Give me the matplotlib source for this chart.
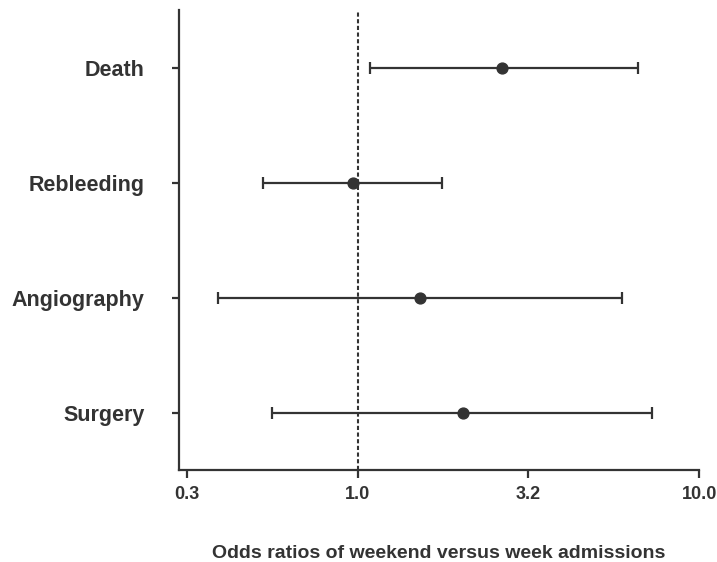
import numpy as np
import matplotlib
matplotlib.use("Agg")
import matplotlib.pyplot as plt

# ---- DATA ----
outcomes = ["Death", "Rebleeding", "Angiography", "Surgery"]
odds_ratio = [2.65, 0.97, 1.52, 2.03]
ci_low = [1.09, 0.53, 0.39, 0.56]
ci_high = [6.63, 1.77, 5.95, 7.28]
tick_values = [10 ** -0.5, 1.0, 10 ** 0.5, 10.0]
tick_labels = ["0.3", "1.0", "3.2", "10.0"]

dark = "#333333"
plt.rcParams["font.family"] = ["Liberation Sans", "DejaVu Sans"]
plt.rcParams["font.weight"] = "bold"

fig = plt.figure(figsize=(7.17, 5.62), dpi=100)
ax = fig.add_axes([0.2497, 0.1637, 0.7253, 0.8185])

y = np.arange(len(outcomes))
orv = np.array(odds_ratio)
err = [orv - np.array(ci_low), np.array(ci_high) - orv]

ax.errorbar(orv, y, xerr=err, fmt="o", color=dark, ecolor=dark,
            elinewidth=1.6, capsize=4.3, capthick=1.6, markersize=7.8)

# ---- REFERENCE LINE ----
ax.axvline(1.0, color=dark, linestyle=(0, (2, 1.2)), linewidth=1.5, zorder=0)

ax.set_xscale("log")
ax.set_xlim(0.3, 10.0)
ax.set_ylim(3.5, -0.5)
ax.set_xticks(tick_values)
ax.set_xticklabels(tick_labels)
ax.minorticks_off()
ax.set_yticks(y)
ax.set_yticklabels(outcomes, fontsize=15.5, fontweight="bold", color=dark)

for lab in ax.get_xticklabels():
    lab.set_fontsize(13)
    lab.set_fontweight("bold")
    lab.set_color(dark)

ax.spines["top"].set_visible(False)
ax.spines["right"].set_visible(False)
for s in ["left", "bottom"]:
    ax.spines[s].set_linewidth(1.6)
    ax.spines[s].set_color(dark)

ax.tick_params(axis="y", length=5, width=1.6, color=dark, pad=20)
ax.tick_params(axis="x", length=5.5, width=1.6, color=dark, pad=6)

ax.set_xlabel("Odds ratios of weekend versus week admissions",
              fontsize=14, fontweight="bold", color=dark, labelpad=30)

fig.savefig("out.png", dpi=100)
